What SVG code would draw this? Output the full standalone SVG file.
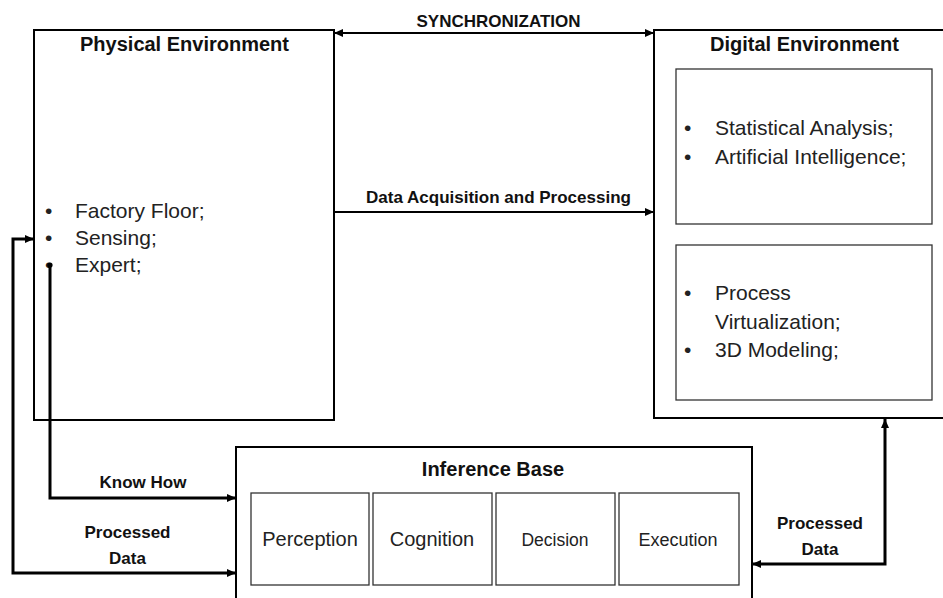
<svg xmlns="http://www.w3.org/2000/svg" width="943" height="598" viewBox="0 0 943 598">
<style>
.box{fill:#fff;stroke:#000;stroke-width:2}
.inner{fill:#fff;stroke:#333;stroke-width:1.3}
.title{font-family:"Liberation Sans",Arial,sans-serif;font-weight:bold;font-size:20px;fill:#111;text-anchor:middle}
.lbl{font-family:"Liberation Sans",Arial,sans-serif;font-weight:bold;font-size:17px;fill:#111;text-anchor:middle}
.txt{font-family:"Liberation Sans",Arial,sans-serif;font-size:21px;fill:#222}
.step{font-family:"Liberation Sans",Arial,sans-serif;font-size:20px;fill:#222;text-anchor:middle}
.conn{fill:none;stroke:#000}
</style>
<defs>
<marker id="arr" markerUnits="userSpaceOnUse" markerWidth="9" markerHeight="8" refX="9" refY="4" orient="auto-start-reverse">
<path d="M0,0 L9,4 L0,8 z" fill="#000"/>
</marker>
<marker id="dot" markerUnits="userSpaceOnUse" markerWidth="6" markerHeight="6" refX="3" refY="3">
<circle cx="3" cy="3" r="2.6" fill="#000"/>
</marker>
</defs>

<g id="physical">
<rect class="box" x="34" y="30" width="300" height="390"/>
<text class="title" x="184.5" y="51">Physical Environment</text>
<text class="txt" x="45" y="218">•</text>
<text class="txt" x="75" y="218">Factory Floor;</text>
<text class="txt" x="45" y="245">•</text>
<text class="txt" x="75" y="245">Sensing;</text>
<text class="txt" x="45" y="272">•</text>
<text class="txt" x="75" y="272">Expert;</text>
</g>

<g id="digital">
<rect class="box" x="654" y="30" width="300" height="388"/>
<text class="title" x="804.5" y="51">Digital Environment</text>
<g id="digital-analysis">
<rect class="inner" x="676" y="69" width="256" height="155"/>
<text class="txt" x="684" y="135">•</text>
<text class="txt" x="715" y="135">Statistical Analysis;</text>
<text class="txt" x="684" y="164">•</text>
<text class="txt" x="715" y="164">Artificial Intelligence;</text>
</g>
<g id="digital-virtual">
<rect class="inner" x="676" y="245" width="256" height="155"/>
<text class="txt" x="684" y="300">•</text>
<text class="txt" x="715" y="300">Process</text>
<text class="txt" x="715" y="329">Virtualization;</text>
<text class="txt" x="684" y="357">•</text>
<text class="txt" x="715" y="357">3D Modeling;</text>
</g>
</g>

<g id="inference">
<rect class="box" x="236" y="447" width="516" height="160"/>
<text class="title" x="493" y="476">Inference Base</text>
<g id="perception"><rect class="inner" x="251" y="493" width="118" height="92"/><text class="step" x="310" y="546">Perception</text></g>
<g id="cognition"><rect class="inner" x="373" y="493" width="119" height="92"/><text class="step" x="432" y="546">Cognition</text></g>
<g id="decision"><rect class="inner" x="496" y="493" width="119" height="92"/><text class="step" x="555" y="546" style="font-size:17.5px">Decision</text></g>
<g id="execution"><rect class="inner" x="619" y="493" width="120" height="92"/><text class="step" x="678" y="546" style="font-size:18px">Execution</text></g>
</g>

<g id="connectors">
<path class="conn" stroke-width="2" d="M334 33 H654" marker-start="url(#arr)" marker-end="url(#arr)"/>
<text class="lbl" x="498.5" y="27">SYNCHRONIZATION</text>
<path class="conn" stroke-width="2" d="M334 212 H654" marker-end="url(#arr)"/>
<text class="lbl" x="498.5" y="203">Data Acquisition and Processing</text>
<path class="conn" stroke-width="3" d="M34 239 H13 V573 H236" marker-start="url(#arr)" marker-end="url(#arr)"/>
<text class="lbl" x="127.5" y="538">Processed</text>
<text class="lbl" x="127.5" y="564">Data</text>
<path class="conn" stroke-width="3" d="M50 265 V498 H236" marker-start="url(#dot)" marker-end="url(#arr)"/>
<text class="lbl" x="143" y="488">Know How</text>
<path class="conn" stroke-width="3" d="M752 564 H885 V419" marker-start="url(#arr)" marker-end="url(#arr)"/>
<text class="lbl" x="820" y="529">Processed</text>
<text class="lbl" x="820" y="555">Data</text>
</g>
</svg>
